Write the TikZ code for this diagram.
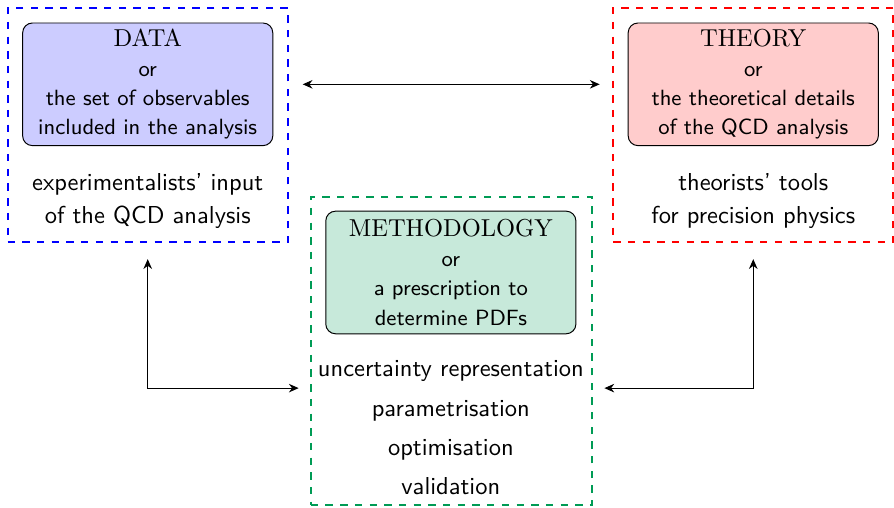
\documentclass[tikz,border=0pt]{standalone}
\usepackage{tikz}
\usetikzlibrary{positioning,arrows.meta,calc}
\usepackage{xcolor}
\definecolor{methgreen}{RGB}{0,155,85}

\begin{document}
\begin{tikzpicture}[
  every node/.style={font=\sffamily},
  frame/.style={draw=#1,dashed,thick,minimum width=4.02cm,minimum height=3.36cm,inner sep=0pt},
  core/.style={draw,thin,rounded corners=4pt,fill=#1,text width=3.5cm,align=center,
    minimum width=3.59cm,minimum height=1.76cm,inner sep=1pt,font=\sffamily\small},
  link/.style={{Stealth[length=4pt,width=3.5pt]}-{Stealth[length=4pt,width=3.5pt]},thin}
]
  \useasboundingbox (0,0) rectangle (12.83,7.29);

  % dashed frames
  \node[frame=blue]  (dataframe)   at (2.12,5.495) {};
  \node[frame=red]   (theoryframe) at (10.81,5.495) {};
  \node[frame=methgreen,minimum width=4.04cm,minimum height=4.42cm] (methframe) at (6.48,2.25) {};

  % coloured boxes
  \node[core=blue!20] (data) at (2.12,6.08)
    {{\normalsize\rmfamily DATA}\\[1pt]or\\[1pt]the set of observables\\[1pt]included in the analysis};
  \node[core=red!20] (theory) at (10.81,6.08)
    {{\normalsize\rmfamily THEORY}\\[1pt]or\\[1pt]the theoretical details\\[1pt]of the QCD analysis};
  \node[core=methgreen!22] (meth) at (6.47,3.38)
    {{\normalsize\rmfamily METHODOLOGY}\\[1pt]or\\[1pt]a prescription to\\[1pt]determine PDFs};

  % texts below
  \node[align=center] (datatxt) at (2.12,4.41)
    {experimentalists' input\\[1.5pt]of the QCD analysis};
  \node[align=center] (theorytxt) at (10.81,4.41)
    {theorists' tools\\[1.5pt]for precision physics};
  \node[align=center] (methtxt) at (6.47,1.15)
    {uncertainty representation\\[4pt]parametrisation\\[4pt]optimisation\\[4pt]validation};

  % arrows
  \coordinate (lcorner) at (dataframe.south |- 0,1.72);
  \coordinate (rcorner) at (theoryframe.south |- 0,1.72);
  \draw[link,shorten <=2.0mm,shorten >=1.8mm] (dataframe.east |- data.center) -- (theoryframe.west |- data.center);
  \draw[link,shorten <=2.3mm,shorten >=1.6mm] (dataframe.south) -- (lcorner) -- (methframe.west |- lcorner);
  \draw[link,shorten <=1.6mm,shorten >=2.3mm] (methframe.east |- rcorner) -- (rcorner) -- (theoryframe.south);
\end{tikzpicture}
\end{document}
